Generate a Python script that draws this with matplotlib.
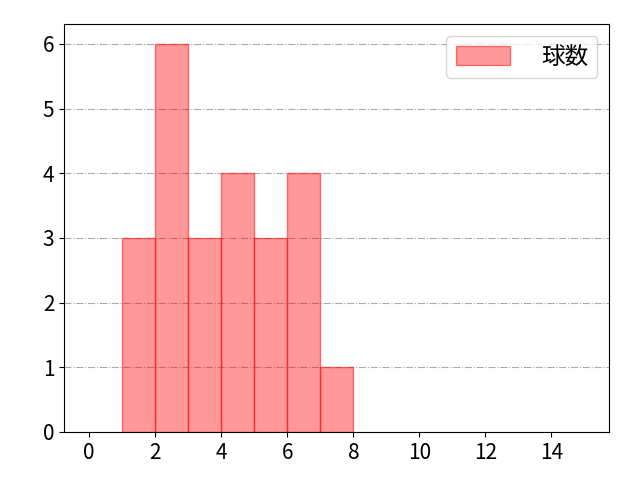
import matplotlib
matplotlib.use("Agg")
import matplotlib.pyplot as plt

plt.rcParams['font.family'] = ['Noto Sans CJK JP', 'DejaVu Sans']

# histogram bins and counts
bin_left = [1, 2, 3, 4, 5, 6, 7]
counts = [3, 6, 3, 4, 3, 4, 1]
label = "球数"

fig, ax = plt.subplots(figsize=(6.4, 4.8), dpi=100)
fig.subplots_adjust(left=0.1, right=0.952, top=0.949, bottom=0.1)
ax.bar(bin_left, counts, width=1, align='edge',
       facecolor=(1, 0, 0, 0.4), edgecolor=(1, 0, 0, 0.5), linewidth=1,
       label=label)

ax.set_xlim(-0.76, 15.75)
ax.set_ylim(0, 6.3)
ax.set_xticks(range(0, 16, 2))
ax.set_yticks(range(0, 7))
ax.tick_params(labelsize=15)
ax.grid(axis='y', linestyle='-.', color='#aaaaaa', linewidth=0.8)
ax.set_axisbelow(True)
ax.legend(fontsize=17, loc='upper right', handleheight=0.8,
          handlelength=2.3, handletextpad=1.3)

fig.savefig("out.png")
